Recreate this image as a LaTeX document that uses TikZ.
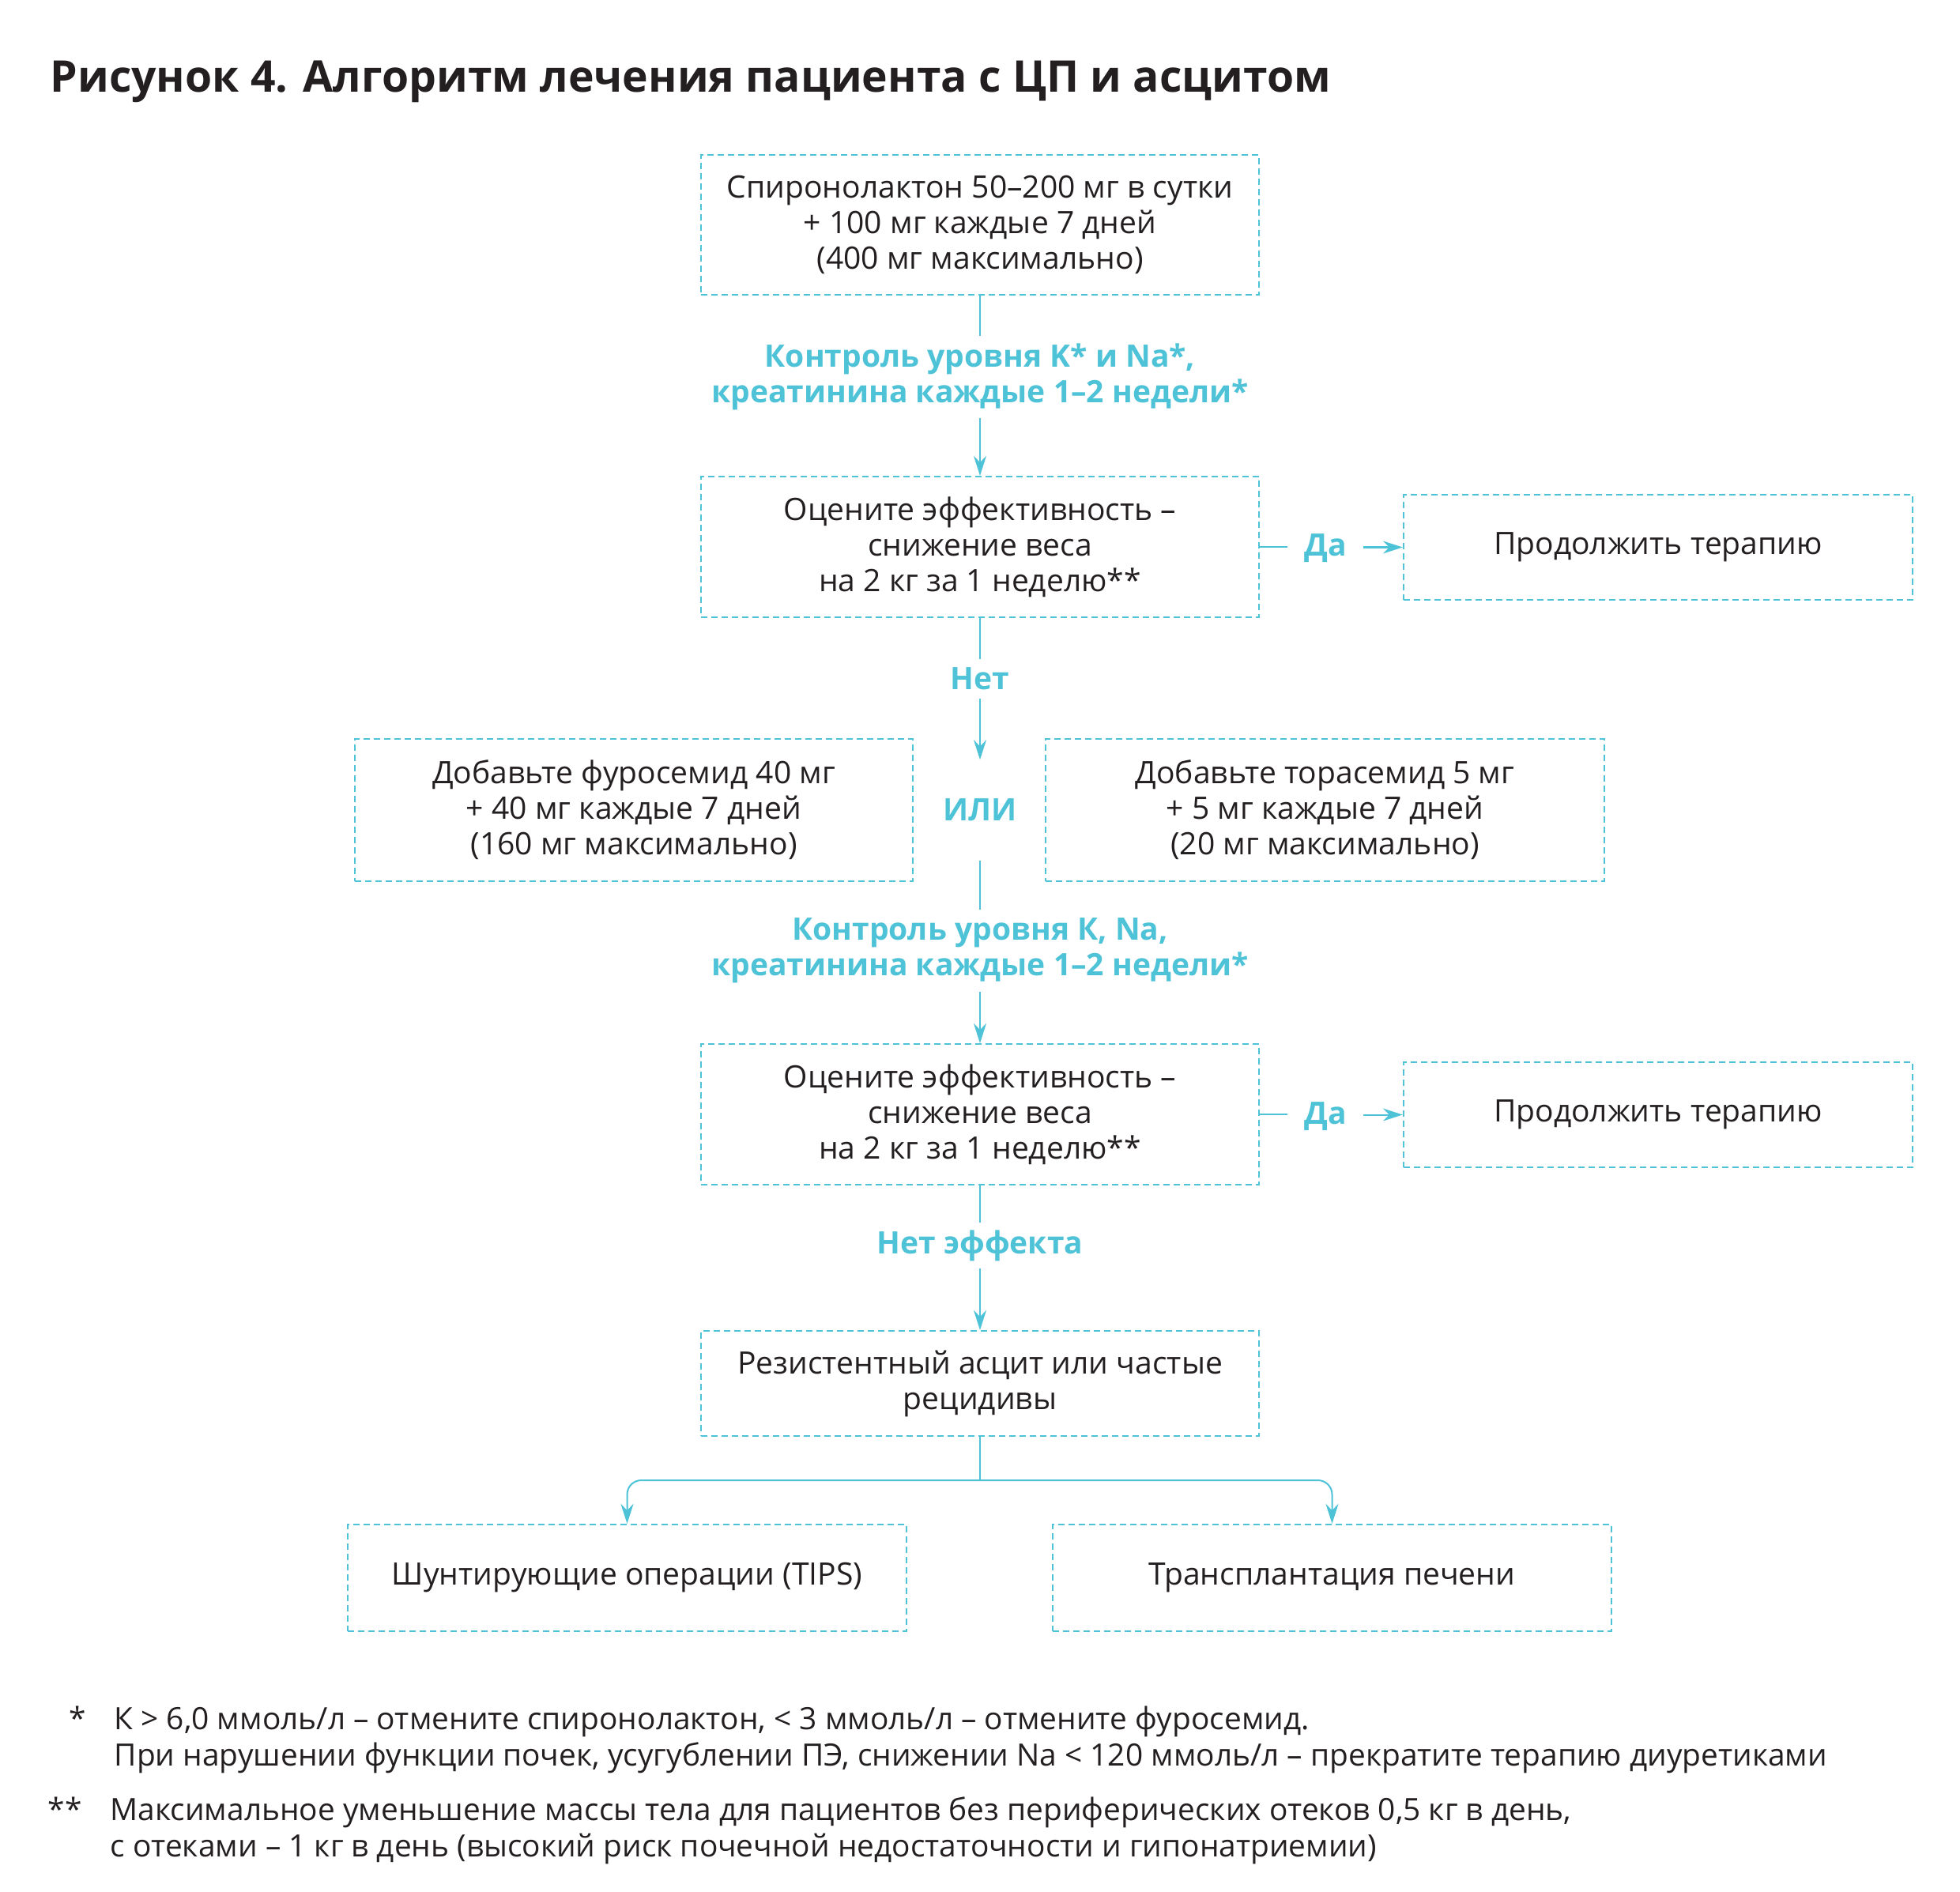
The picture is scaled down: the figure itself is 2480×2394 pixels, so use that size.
\documentclass[tikz,border=0pt]{standalone}
\usepackage{fontspec}
\setmainfont{Open Sans}
\usetikzlibrary{arrows.meta}
\definecolor{cy}{HTML}{4EC3D7}
\definecolor{ink}{HTML}{231F20}
\begin{document}
\begin{tikzpicture}[x=0.01cm,y=-0.01cm,
  box/.style={draw=cy, dash pattern=on 0.08cm off 0.05cm, line width=0.02cm, minimum width=7.06cm, text=ink, align=center, inner sep=0pt, font=\fontsize{11.1}{12.8}\selectfont},
  lbl/.style={text=cy, font=\fontsize{11.1}{12.8}\selectfont\bfseries, align=center, inner sep=0pt},
  ln/.style={draw=cy, line width=0.02cm},
  arr/.style={ln, -{Stealth[length=0.25cm,width=0.16cm]}},
  foot/.style={text=ink, anchor=base west, inner sep=0pt, font=\fontsize{11.05}{12.8}\selectfont}]
\useasboundingbox[fill=white] (0,0) rectangle (2480,2394);
\node[anchor=base west, inner sep=0pt, text=ink, font=\fontsize{15.7}{18}\selectfont\bfseries] (title) at (63,117) {Рисунок 4. Алгоритм лечения пациента с ЦП и асцитом};

\node[box, minimum height=1.77cm] (b1) at (1240,284.5) {Спиронолактон 50–200 мг в сутки\\+ 100 мг каждые 7 дней\\(400 мг максимально)};
\node[lbl, minimum height=1.02cm] (l1) at (1240,477) {Контроль уровня K* и Na*,\\креатинина каждые 1–2 недели*};
\node[box, minimum height=1.78cm] (b2) at (1240,692) {Оцените эффективность –\\снижение веса\\на 2 кг за 1 неделю**};
\node[lbl, minimum width=0.95cm] (da1) at (1677,694) {Да};
\node[box, minimum width=6.44cm, minimum height=1.33cm] (r1) at (2098,692.5) {Продолжить терапию};
\node[lbl, minimum height=0.49cm] (net) at (1240,859) {Нет};
\node[lbl, minimum height=1.26cm] (ili) at (1240,1025) {ИЛИ};
\node[box, minimum height=1.80cm] (bf) at (802,1025) {Добавьте фуросемид 40 мг\\+ 40 мг каждые 7 дней\\(160 мг максимально)};
\node[box, minimum height=1.80cm] (bt) at (1676.5,1025) {Добавьте торасемид 5 мг\\+ 5 мг каждые 7 дней\\(20 мг максимально)};
\node[lbl, minimum height=1.02cm] (l2) at (1240,1203) {Контроль уровня К, Na,\\креатинина каждые 1–2 недели*};
\node[box, minimum height=1.78cm] (b3) at (1240,1410) {Оцените эффективность –\\снижение веса\\на 2 кг за 1 неделю**};
\node[lbl, minimum width=0.95cm] (da2) at (1677,1413) {Да};
\node[box, minimum width=6.44cm, minimum height=1.33cm] (r2) at (2098,1410.5) {Продолжить терапию};
\node[lbl, minimum height=0.57cm] (ne) at (1240,1576) {Нет эффекта};
\node[box, minimum height=1.33cm] (b4) at (1240,1750.5) {Резистентный асцит или частые\\рецидивы};
\node[box, minimum width=7.07cm, minimum height=1.35cm] (tips) at (793.5,1996.5) {Шунтирующие операции (TIPS)};
\node[box, minimum width=7.07cm, minimum height=1.35cm] (tr) at (1685.5,1996.5) {Трансплантация печени};

\draw[ln] (b1.south) -- (l1.north);
\draw[arr] (l1.south) -- (b2.north);
\draw[ln] (b2.east) -- (da1.west |- b2.east);
\draw[arr] (da1.east |- r1.west) -- (r1.west);
\draw[ln] (b2.south) -- (net.north);
\draw[arr] (net.south) -- (ili.north);
\draw[ln] (ili.south) -- (l2.north);
\draw[arr] (l2.south) -- (b3.north);
\draw[ln] (b3.east) -- (da2.west |- b3.east);
\draw[arr] (da2.east |- r2.west) -- (r2.west);
\draw[ln] (b3.south) -- (ne.north);
\draw[arr] (ne.south) -- (b4.north);
\coordinate (j) at (1240,1873);
\draw[ln] (b4.south) -- (j);
\draw[arr, rounded corners=0.18cm] (j) -| (tips.north);
\draw[arr, rounded corners=0.18cm] (j) -| (tr.north);

\node[foot] (s1) at (87,2188) {*};
\node[foot] (f1) at (144,2188) {К > 6,0 ммоль/л – отмените спиронолактон, < 3 ммоль/л – отмените фуросемид.};
\node[foot] (f2) at (144,2234) {При нарушении функции почек, усугублении ПЭ, снижении Na < 120 ммоль/л – прекратите терапию диуретиками};
\node[foot] (s2) at (60,2303) {**};
\node[foot] (f3) at (139,2303) {Максимальное уменьшение массы тела для пациентов без периферических отеков 0,5 кг в день,};
\node[foot] (f4) at (139,2349) {с отеками – 1 кг в день (высокий риск почечной недостаточности и гипонатриемии)};
\end{tikzpicture}
\end{document}
